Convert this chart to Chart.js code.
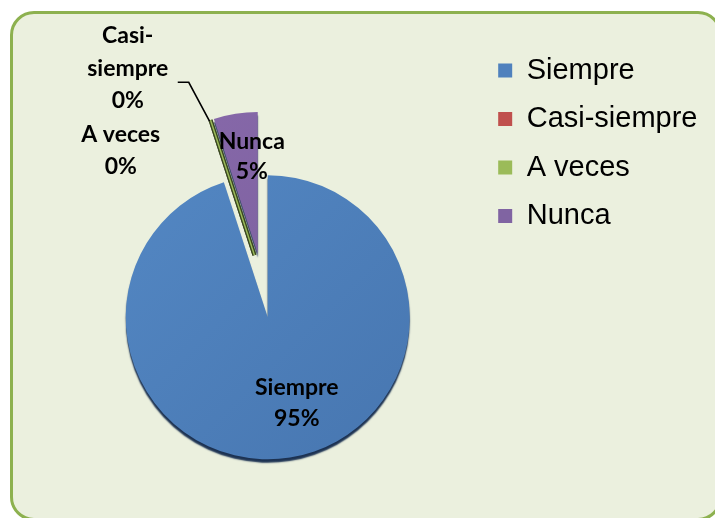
<!DOCTYPE html>
<html>
<head>
<meta charset="utf-8">
<script src="https://cdn.jsdelivr.net/npm/chart.js@4.4.1/dist/chart.umd.min.js"></script>
<style>
  html, body { margin: 0; padding: 0; background: #ffffff; }
  #wrap { position: relative; width: 715px; height: 518px; overflow: hidden; }
  #frame { position: absolute; left: 10px; top: 11px; width: 712px; height: 510px;
           border: 3px solid #8db14f; border-radius: 24px; background: #ebf0de; box-sizing: border-box; }
  #c { position: absolute; left: 0; top: 0; }
</style>
</head>
<body>
<div id="wrap">
  <div id="frame"></div>
  <canvas id="c" width="730" height="600"></canvas>
</div>
<script>
// ---- data ----
const categories = ['Siempre', 'Casi-siempre', 'A veces', 'Nunca'];
const values = [95, 0, 0, 5];
const dataLabelLines = [['Siempre', '95%'], ['Casi-', 'siempre', '0%'], ['A veces', '0%'], ['Nunca', '5%']];

// ---- styles ----
const colors = ['#4f81bd', '#c0504d', '#9bbb59', '#8064a2'];
const lightColors = ['#5387c3', '#c85a57', '#a3c461', '#8668a9'];
const darkColors = ['#4776b0', '#ad4744', '#8aa84f', '#775c98'];
const PIE_RADIUS = 142;
const EXPLODE_PX = 64;        // explode distance of the Nunca slice
const EXPLODED_INDEX = 3;

function pieCenter(chart) {
  const a = chart.chartArea;
  return { x: (a.left + a.right) / 2, y: (a.top + a.bottom) / 2 };
}

const piePlugin = {
  id: 'pieExtras',
  afterDatasetsUpdate(chart) {
    // explode the chosen slice: move its element centre along its mid angle
    const el = chart.getDatasetMeta(0).data[EXPLODED_INDEX];
    const c = pieCenter(chart);
    const half = (el.startAngle + el.endAngle) / 2;
    el.x = c.x + Math.cos(half) * EXPLODE_PX;
    el.y = c.y + Math.sin(half) * EXPLODE_PX;
  },
  beforeDatasetsDraw(chart) {
    const ctx = chart.ctx;
    ctx.save();
    ctx.shadowColor = 'rgba(28,50,82,1)';
    ctx.shadowOffsetX = 0;
    ctx.shadowOffsetY = 3.5;
    ctx.shadowBlur = 1.5;
  },
  afterDatasetsDraw(chart) {
    const ctx = chart.ctx;
    ctx.restore();
    const arcs = chart.getDatasetMeta(0).data;
    const c = pieCenter(chart);
    const ex = arcs[EXPLODED_INDEX];
    let lineTop = null;
    values.forEach((v, i) => {
      if (v !== 0) return;
      const a = arcs[i].startAngle;
      const r = arcs[i].outerRadius;
      const px = Math.sin(a) * 3.5, py = -Math.cos(a) * 3.5;
      const x0 = ex.x + px, y0 = ex.y + py;
      const x1 = x0 + Math.cos(a) * r, y1 = y0 + Math.sin(a) * r;
      ctx.save();
      ctx.lineCap = 'butt';
      ctx.strokeStyle = '#394621';
      ctx.lineWidth = 4;
      ctx.beginPath(); ctx.moveTo(x0, y0); ctx.lineTo(x1, y1); ctx.stroke();
      ctx.strokeStyle = '#9bbb59';
      ctx.lineWidth = 1.5;
      ctx.beginPath(); ctx.moveTo(x0, y0); ctx.lineTo(x1, y1); ctx.stroke();
      ctx.restore();
      lineTop = { x: x1, y: y1 };
    });
    // leader line for the Casi-siempre label
    if (lineTop) {
      ctx.save();
      ctx.strokeStyle = '#000';
      ctx.lineWidth = 1.6;
      ctx.beginPath();
      ctx.moveTo(c.x - 90, c.y - 235);
      ctx.lineTo(c.x - 79, c.y - 235);
      ctx.lineTo(lineTop.x - 1, lineTop.y + 1);
      ctx.stroke();
      ctx.restore();
    }
    // data labels
    const centers = [
      { x: c.x + 29, y: c.y + 86, lh: 31 },
      { x: c.x - 140, y: c.y - 249, lh: 32.5 },
      { x: c.x - 147, y: c.y - 167, lh: 32 },
      { x: ex.x - 6, y: ex.y - 97, lh: 30 }
    ];
    ctx.save();
    ctx.fillStyle = '#000';
    ctx.font = 'bold 23px Lato';
    ctx.textAlign = 'center';
    ctx.textBaseline = 'middle';
    dataLabelLines.forEach((lines, i) => {
      const p = centers[i];
      const y0 = p.y - (lines.length - 1) * p.lh / 2;
      lines.forEach((t, k) => ctx.fillText(t, p.x, y0 + k * p.lh));
    });
    ctx.restore();
  }
};

new Chart(document.getElementById('c'), {
  type: 'pie',
  data: {
    labels: categories,
    datasets: [{
      data: values,
      backgroundColor: (ctx) => {
        const chart = ctx.chart;
        if (!chart.chartArea) return colors[ctx.dataIndex];
        const c = pieCenter(chart);
        const g = chart.ctx.createLinearGradient(c.x - PIE_RADIUS, c.y - PIE_RADIUS, c.x + PIE_RADIUS, c.y + PIE_RADIUS);
        g.addColorStop(0, lightColors[ctx.dataIndex]);
        g.addColorStop(1, darkColors[ctx.dataIndex]);
        return g;
      },
      borderWidth: 0
    }]
  },
  options: {
    responsive: false,
    devicePixelRatio: 1,
    animation: false,
    radius: PIE_RADIUS,
    layout: { padding: { left: 56.8, top: 36.5, right: 22.5, bottom: 2 } },
    plugins: {
      tooltip: { enabled: false },
      legend: {
        position: 'right',
        align: 'start',
        labels: {
          font: { family: 'Liberation Sans', size: 29 },
          color: '#000',
          boxWidth: 14,
          boxHeight: 14,
          padding: 19.5,
          generateLabels: () => categories.map((t, i) => ({
            text: t, fillStyle: colors[i], strokeStyle: colors[i], lineWidth: 0,
            hidden: false, index: i, fontColor: '#000'
          }))
        }
      }
    }
  },
  plugins: [piePlugin]
});
</script>
</body>
</html>
